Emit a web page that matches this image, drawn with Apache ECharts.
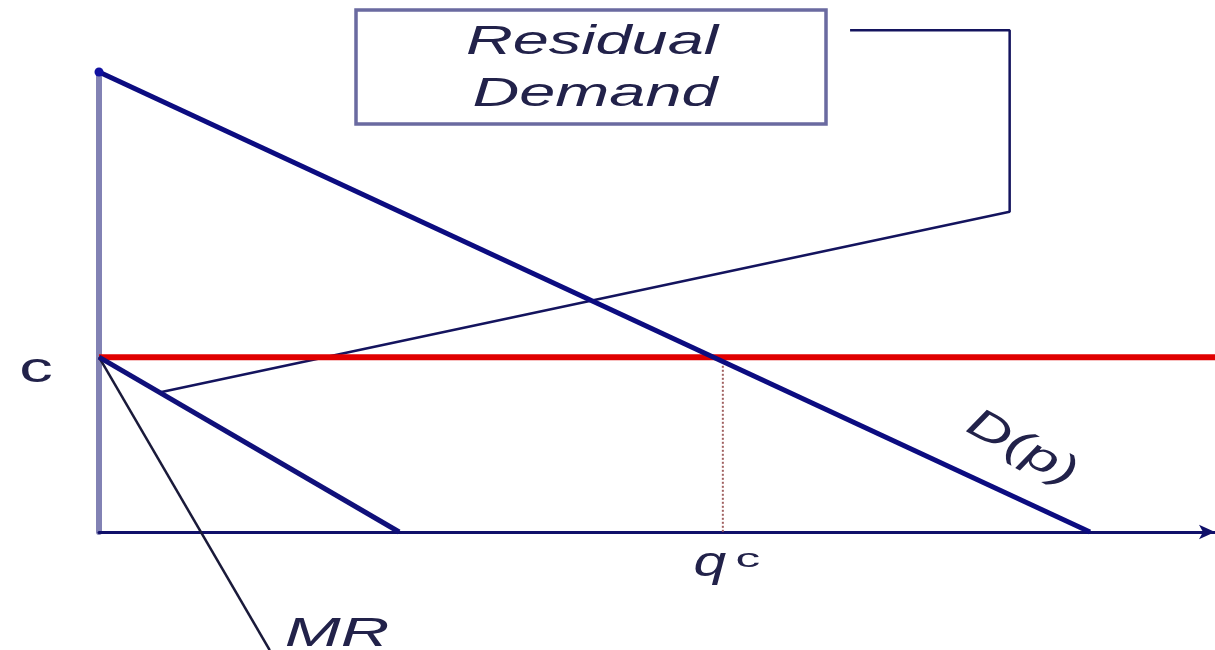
<!DOCTYPE html>
<html>
<head>
<meta charset="utf-8">
<title>Residual Demand</title>
<script src="https://cdn.jsdelivr.net/npm/echarts@6/dist/echarts.min.js"></script>
<style>
    html, body {margin: 0; padding: 0; background: #fff;}
    #main {width: 1215px; height: 650px;}
</style>
</head>
<body>
<div id="main"></div>
<script>
// demand D(p)
var demandLine = [[0, 100], [88.8, 0]];
// marginal cost c
var costLine = [[0, 38], [100, 38]];
// residual demand line starting at c
var residualLine = [[0, 38], [26.9, 0]];
// MR
var mrLine = [[0, 38], [15.3, -25.7]];
// pointer from the "Residual Demand" box
var pointerLine = [[5.5, 30.4], [81.6, 69.6], [81.6, 109.1], [67.3, 109.1]];
// q^c
var qcValue = 55.9;
var qcLine = [[qcValue, 37], [qcValue, 0]];
// where D(p) text sits along the demand line
var dLabelAt = 82.7;

var boxText = ['Residual', 'Demand'];

var myChart = echarts.init(document.getElementById('main'));

var option = {
    animation: false,
    backgroundColor: '#fff',
    grid: {left: 99, right: 0, top: 72, bottom: 118},
    xAxis: {
        type: 'value',
        min: 0,
        max: 100,
        axisLine: {
            show: true,
            symbol: ['none', 'arrow'],
            symbolSize: [11, 16],
            lineStyle: {color: '#10106a', width: 3}
        },
        axisTick: {show: false},
        axisLabel: {show: false},
        splitLine: {show: false}
    },
    yAxis: {
        type: 'value',
        min: 0,
        max: 100,
        axisLine: {show: true, lineStyle: {color: '#8282b4', width: 6}},
        axisTick: {show: false},
        axisLabel: {show: false},
        splitLine: {show: false}
    },
    series: [
        {
            name: 'pointer',
            type: 'line',
            data: pointerLine,
            symbol: 'none',
            clip: false,
            z: 2,
            lineStyle: {color: '#14145e', width: 2.5}
        },
        {
            name: 'qc',
            type: 'line',
            data: qcLine,
            symbol: 'none',
            clip: false,
            z: 2,
            lineStyle: {color: '#a06060', width: 2, type: 'dotted'}
        },
        {
            name: 'c',
            type: 'line',
            data: costLine,
            symbol: 'none',
            clip: false,
            z: 3,
            lineStyle: {color: '#e00000', width: 6}
        },
        {
            name: 'MR',
            type: 'line',
            data: mrLine,
            symbol: 'none',
            clip: false,
            z: 4,
            lineStyle: {color: '#1a1a3a', width: 2.5}
        },
        {
            name: 'residual',
            type: 'line',
            data: residualLine,
            symbol: 'none',
            clip: false,
            z: 4,
            lineStyle: {color: '#10107a', width: 5}
        },
        {
            name: 'D(p)',
            type: 'line',
            data: [
                {value: demandLine[0], symbol: 'circle', symbolSize: 9},
                {value: demandLine[1], symbol: 'none'}
            ],
            showSymbol: true,
            clip: false,
            z: 5,
            itemStyle: {color: '#1010a0'},
            lineStyle: {color: '#0c0c80', width: 5}
        }
    ]
};
myChart.setOption(option);

// labels, placed from the data points
var textColor = '#22224a';
var cPx = myChart.convertToPixel({gridIndex: 0}, costLine[0]);
var qPx = myChart.convertToPixel({gridIndex: 0}, [qcValue, 0]);
var mrPx = myChart.convertToPixel({gridIndex: 0}, mrLine[1]);
var dY = demandLine[0][1] + (demandLine[1][1] - demandLine[0][1]) * dLabelAt / demandLine[1][0];
var dPx = myChart.convertToPixel({gridIndex: 0}, [dLabelAt, dY]);

function txt(str, x, y, size, italic, sx, rot, align) {
    return {
        type: 'text',
        x: x,
        y: y,
        scaleX: sx,
        rotation: rot || 0,
        z: 10,
        style: {
            text: str,
            fontFamily: 'Liberation Sans, Arial, sans-serif',
            fontSize: size,
            fontStyle: italic ? 'italic' : 'normal',
            fill: textColor,
            align: align || 'center',
            textAlign: align || 'center',
            verticalAlign: 'middle',
            textVerticalAlign: 'middle'
        }
    };
}

myChart.setOption({
    graphic: [
        {
            type: 'rect',
            z: 9,
            shape: {x: 356, y: 10, width: 470, height: 114},
            style: {fill: '#fff', stroke: '#6a6aa0', lineWidth: 3.5}
        },
        txt(boxText[0], 592, 43, 40, true, 1.62),
        txt(boxText[1], 595, 95, 40, true, 1.62),
        txt('c', cPx[0] - 63, cPx[1] + 13, 42, false, 1.6),
        txt('q', qPx[0] - 13, qPx[1] + 32, 42, true, 1.4),
        txt('c', qPx[0] + 25, qPx[1] + 28, 26, false, 1.9),
        txt('MR', mrPx[0] + 15, mrPx[1] - 15, 40, true, 1.68, 0, 'left'),
        txt('D(p)', dPx[0], dPx[1] - 52, 42, true, 1.45, -0.5)
    ]
});
</script>
</body>
</html>
